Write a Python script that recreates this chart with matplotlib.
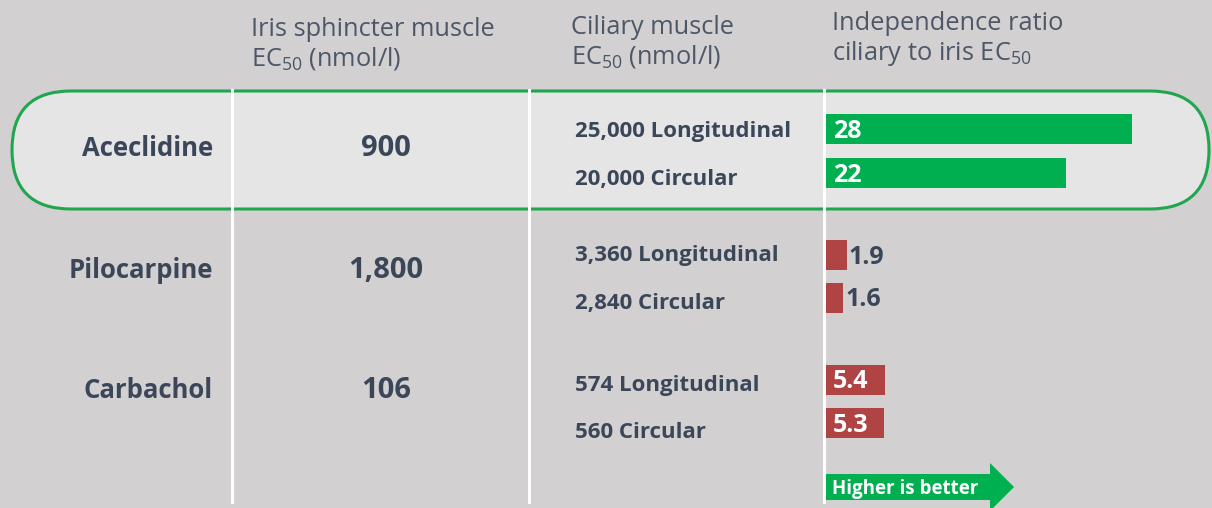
import matplotlib.pyplot as plt
from matplotlib.patches import FancyBboxPatch, Polygon

plt.rcParams['font.family'] = ['Open Sans', 'DejaVu Sans']
plt.rcParams['mathtext.fontset'] = 'custom'
plt.rcParams['mathtext.rm'] = 'Open Sans'

# data
drugs = ['Aceclidine', 'Pilocarpine', 'Carbachol']
iris_ec50 = ['900', '1,800', '106']
ciliary_long = ['25,000', '3,360', '574']
ciliary_circ = ['20,000', '2,840', '560']
ratios = [28, 22, 1.9, 1.6, 5.4, 5.3]
ratio_labels = ['28', '22', '1.9', '1.6', '5.4', '5.3']

W, H = 1212, 508
bg = '#d2d0d1'
dark = '#3b4759'
head = '#4d5768'
green = '#00b050'
red = '#b04444'

fig = plt.figure(figsize=(W / 100, H / 100), dpi=100, facecolor=bg)
ax = fig.add_axes([0, 0, 1, 1])
ax.set_xlim(0, W)
ax.set_ylim(H, 0)
ax.axis('off')

# highlight pill around the first drug
pill = FancyBboxPatch((12, 91), 1197, 118,
                      boxstyle='round,pad=0,rounding_size=59',
                      fc='#e6e5e6', ec='#1fa64e', lw=2.2, zorder=1)
ax.add_patch(pill)

# column separators
for x in [232, 529, 824]:
    ax.plot([x, x], [90, 502], color='white', lw=2.2, zorder=2)

# headers
hs = 18.3
ax.text(251, 30, 'Iris sphincter muscle', fontsize=hs, color=head, va='center')
ax.text(251, 59, r'EC$_{50}$ (nmol/l)', fontsize=hs, color=head, va='center')
ax.text(571, 28, 'Ciliary muscle', fontsize=hs, color=head, va='center')
ax.text(571, 57, r'EC$_{50}$ (nmol/l)', fontsize=hs, color=head, va='center')
ax.text(832, 24, 'Independence ratio', fontsize=hs, color=head, va='center')
ax.text(832, 53, r'ciliary to iris EC$_{50}$', fontsize=hs, color=head, va='center')

row_y = [149, 270, 391]
sub_y = [(131, 180), (255, 304), (385, 433)]
for i, d in enumerate(drugs):
    ax.text(213, row_y[i], d, fontsize=18.5, fontweight='bold', color=dark,
            ha='right', va='center', zorder=3)
    ax.text(386, row_y[i], iris_ec50[i], fontsize=21, fontweight='bold', color=dark,
            ha='center', va='center', zorder=3)
    ax.text(575, sub_y[i][0], ciliary_long[i] + ' Longitudinal', fontsize=16,
            fontweight='bold', color=dark, va='center', zorder=3)
    ax.text(575, sub_y[i][1], ciliary_circ[i] + ' Circular', fontsize=16,
            fontweight='bold', color=dark, va='center', zorder=3)

# bars
x0 = 826
scale = 10.93
bx = fig.add_axes([x0 / W, 0, (W - x0) / W, 1])
bx.set_xlim(0, (W - x0) / scale)
bx.set_ylim(H, 0)
bx.axis('off')
bar_y = [129, 173, 255, 298, 380, 423]
colors = [green, green, red, red, red, red]
bx.barh(bar_y, ratios, height=30, color=colors, zorder=3)
for y, v, lab in zip(bar_y, ratios, ratio_labels):
    if v > 3:
        bx.text(0.6, y + 2, lab, color='white', fontsize=18, fontweight='bold',
                va='center', zorder=4)
    else:
        bx.text(v + 0.15, y + 2, lab, color=dark, fontsize=18, fontweight='bold',
                va='center', zorder=4)

# "Higher is better" arrow
arrow = Polygon([(826, 474), (990, 474), (990, 463), (1014, 487),
                 (990, 511), (990, 500), (826, 500)],
                closed=True, fc=green, ec='none', zorder=3)
ax.add_patch(arrow)
ax.text(832, 489, 'Higher is better', color='white', fontsize=13.5,
        fontweight='bold', va='center', zorder=4)

fig.savefig('out.png', dpi=100, facecolor=bg)
